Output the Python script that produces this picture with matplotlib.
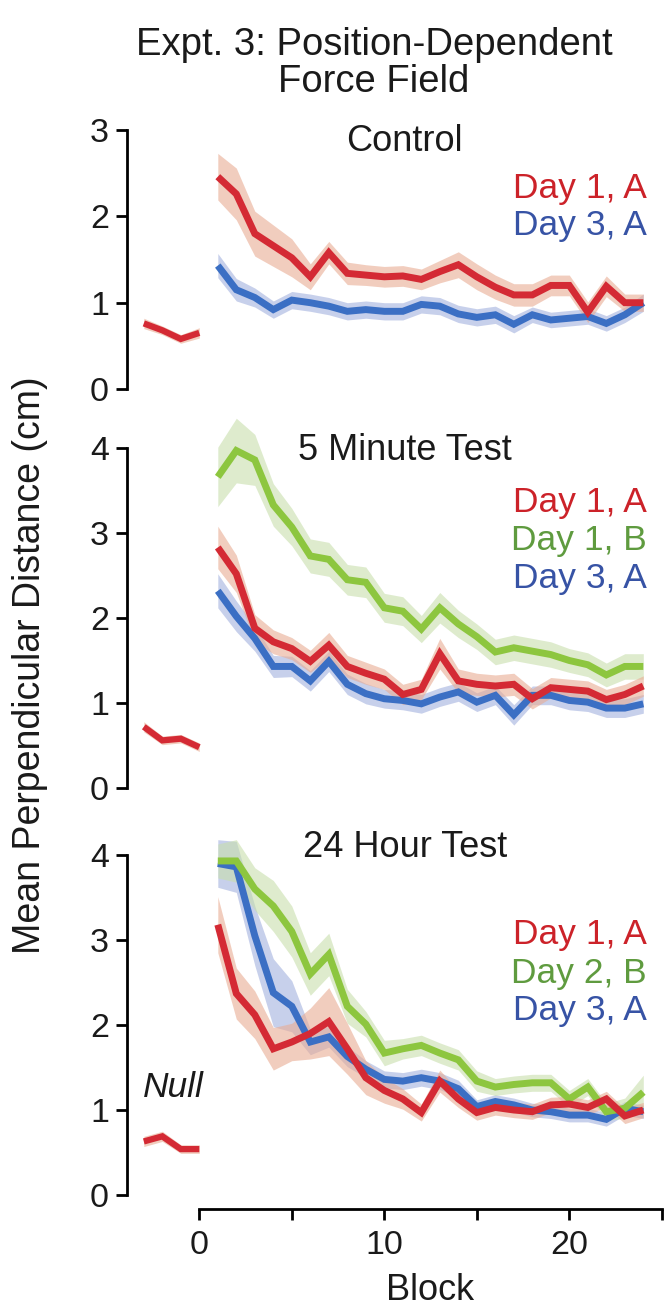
import numpy as np
import matplotlib
matplotlib.use("Agg")
import matplotlib.pyplot as plt

plt.rcParams['font.family'] = ['Liberation Sans', 'DejaVu Sans']

# ---------------- data ----------------
blocks = np.arange(1, 25)
null_blocks = [-3, -2, -1, 0]

ctrl_null = [0.76, 0.68, 0.58, 0.65]
ctrl_null_sem = [0.06, 0.05, 0.05, 0.06]
ctrl_d1A = [2.46, 2.26, 1.80, 1.66, 1.52, 1.30, 1.58, 1.34, 1.32, 1.30, 1.31, 1.27,
            1.36, 1.44, 1.30, 1.18, 1.09, 1.09, 1.20, 1.20, 0.89, 1.19, 1.00, 1.00]
ctrl_d1A_sem = [0.27, 0.30, 0.26, 0.24, 0.22, 0.15, 0.13, 0.13, 0.12, 0.12, 0.12, 0.12,
                0.13, 0.15, 0.15, 0.14, 0.13, 0.13, 0.12, 0.12, 0.12, 0.12, 0.10, 0.10]
ctrl_d3A = [1.43, 1.15, 1.06, 0.92, 1.03, 1.00, 0.96, 0.90, 0.92, 0.90, 0.90, 0.98,
            0.96, 0.87, 0.83, 0.86, 0.75, 0.86, 0.80, 0.82, 0.84, 0.76, 0.86, 1.00]
ctrl_d3A_sem = [0.14, 0.13, 0.11, 0.10, 0.10, 0.10, 0.10, 0.10, 0.10, 0.10, 0.10, 0.10,
                0.10, 0.10, 0.10, 0.10, 0.10, 0.09, 0.09, 0.09, 0.09, 0.09, 0.09, 0.10]

m5_null = [0.72, 0.56, 0.58, 0.48]
m5_null_sem = [0.06, 0.05, 0.05, 0.05]
m5_d1A = [2.83, 2.52, 1.88, 1.72, 1.64, 1.49, 1.68, 1.43, 1.35, 1.28, 1.10, 1.16,
          1.58, 1.26, 1.22, 1.20, 1.22, 1.05, 1.18, 1.16, 1.14, 1.04, 1.10, 1.20]
m5_d1A_sem = [0.25, 0.22, 0.16, 0.14, 0.13, 0.13, 0.15, 0.13, 0.13, 0.12, 0.12, 0.12,
              0.18, 0.14, 0.13, 0.13, 0.13, 0.12, 0.12, 0.12, 0.12, 0.12, 0.12, 0.12]
m5_d1B = [3.66, 3.97, 3.86, 3.33, 3.07, 2.73, 2.69, 2.45, 2.42, 2.12, 2.08, 1.87,
          2.12, 1.93, 1.78, 1.60, 1.65, 1.61, 1.57, 1.50, 1.45, 1.33, 1.43, 1.43]
m5_d1B_sem = [0.35, 0.38, 0.30, 0.25, 0.22, 0.20, 0.20, 0.18, 0.18, 0.17, 0.17, 0.16,
              0.18, 0.16, 0.15, 0.15, 0.15, 0.15, 0.15, 0.14, 0.14, 0.14, 0.15, 0.15]
m5_d3A = [2.32, 2.02, 1.76, 1.43, 1.43, 1.26, 1.49, 1.22, 1.11, 1.05, 1.03, 0.99,
          1.07, 1.13, 1.01, 1.09, 0.86, 1.09, 1.09, 1.03, 1.01, 0.94, 0.94, 0.99]
m5_d3A_sem = [0.20, 0.18, 0.15, 0.13, 0.12, 0.12, 0.12, 0.12, 0.12, 0.11, 0.11, 0.11,
              0.11, 0.11, 0.11, 0.11, 0.12, 0.11, 0.11, 0.11, 0.11, 0.11, 0.11, 0.11]

h24_null = [0.63, 0.69, 0.54, 0.54]
h24_null_sem = [0.06, 0.06, 0.05, 0.05]
h24_d1A = [3.18, 2.37, 2.12, 1.72, 1.80, 1.90, 2.04, 1.72, 1.38, 1.23, 1.13, 0.97,
           1.34, 1.13, 0.97, 1.03, 1.00, 0.98, 1.06, 1.07, 1.03, 1.13, 0.93, 1.00]
h24_d1A_sem = [0.33, 0.30, 0.28, 0.25, 0.22, 0.30, 0.40, 0.30, 0.20, 0.15, 0.12, 0.10,
               0.13, 0.10, 0.09, 0.09, 0.09, 0.09, 0.09, 0.09, 0.09, 0.09, 0.09, 0.09]
h24_d2B = [3.93, 3.93, 3.60, 3.40, 3.10, 2.60, 2.83, 2.22, 2.01, 1.67, 1.72, 1.76,
           1.67, 1.59, 1.34, 1.27, 1.30, 1.32, 1.32, 1.13, 1.27, 0.98, 1.02, 1.21]
h24_d2B_sem = [0.20, 0.25, 0.25, 0.30, 0.30, 0.25, 0.25, 0.20, 0.15, 0.15, 0.12, 0.12,
               0.12, 0.12, 0.12, 0.10, 0.10, 0.10, 0.10, 0.10, 0.10, 0.10, 0.12, 0.20]
h24_d3A = [3.90, 3.86, 3.05, 2.38, 2.22, 1.80, 1.86, 1.63, 1.48, 1.36, 1.34, 1.38,
           1.34, 1.25, 1.04, 1.10, 1.06, 1.00, 0.98, 0.94, 0.94, 0.89, 1.02, 0.98]
h24_d3A_sem = [0.28, 0.30, 0.35, 0.40, 0.30, 0.15, 0.12, 0.12, 0.10, 0.10, 0.10, 0.10,
               0.10, 0.10, 0.08, 0.08, 0.08, 0.08, 0.08, 0.08, 0.08, 0.08, 0.08, 0.08]

# ---------------- style ----------------
RED, RED_BAND, RED_TXT = '#d42a34', '#e9ac93', '#cc2229'
BLUE, BLUE_BAND, BLUE_TXT = '#3b6fc4', '#a3b1de', '#3753a5'
GREEN, GREEN_BAND, GREEN_TXT = '#8dc63f', '#c8dfac', '#5f9b3f'
TICK_FS = 24.5
LEG_FS = 25.5
PANEL_FS = 26
AXLAB_FS = 26
YLAB_FS = 27
TITLE_FS = 27.5
INK = '#1a1a1a'

W, H = 667, 1310
fig = plt.figure(figsize=(W / 100, H / 100), dpi=100)

X_LEFT_PX, X_RIGHT_PX = 127, 667
X0_PX, XUNIT = 199.3, 18.5
xlim = ((X_LEFT_PX - X0_PX) / XUNIT, (X_RIGHT_PX - X0_PX) / XUNIT)


def make_axes(y0_px, unit_px, ylim):
    top = y0_px - ylim[1] * unit_px
    bottom = y0_px - ylim[0] * unit_px
    ax = fig.add_axes([X_LEFT_PX / W, 1 - bottom / H,
                       (X_RIGHT_PX - X_LEFT_PX) / W, (bottom - top) / H])
    ax.set_xlim(*xlim)
    ax.set_ylim(*ylim)
    ax.patch.set_visible(False)
    for s in ('top', 'right', 'bottom'):
        ax.spines[s].set_visible(False)
    ax.spines['left'].set_linewidth(2)
    ax.tick_params(axis='y', direction='out', length=8, width=2,
                   labelsize=TICK_FS, pad=5, labelcolor=INK)
    ax.tick_params(axis='x', bottom=False, labelbottom=False)
    return ax


def series(ax, x, y, sem, color, band, lw=5):
    y = np.asarray(y)
    sem = np.asarray(sem)
    ax.fill_between(x, y - sem, y + sem, color=band, alpha=0.6, lw=0)
    ax.plot(x, y, color=color, lw=lw, solid_joinstyle='miter',
            solid_capstyle='butt')


def labels(ax, items, title, title_y):
    ax.text(11.1, title_y, title, ha='center', va='baseline', fontsize=PANEL_FS,
            color=INK)
    for txt, col, yy in items:
        ax.text(24.2, yy, txt, ha='right', va='baseline', fontsize=LEG_FS, color=col)


# Control
ax1 = make_axes(389, 86.3, (-0.15, 3.2))
ax1.set_yticks([0, 1, 2, 3])
ax1.spines['left'].set_bounds(0, 3)
series(ax1, null_blocks, ctrl_null, ctrl_null_sem, RED, RED_BAND, lw=4.5)
series(ax1, blocks, ctrl_d3A, ctrl_d3A_sem, BLUE, BLUE_BAND)
series(ax1, blocks, ctrl_d1A, ctrl_d1A_sem, RED, RED_BAND)
labels(ax1, [('Day 1, A', RED_TXT, 2.21), ('Day 3, A', BLUE_TXT, 1.78)],
       'Control', 2.76)

# 5 minute
ax2 = make_axes(788, 85, (-0.15, 4.45))
ax2.set_yticks([0, 1, 2, 3, 4])
ax2.spines['left'].set_bounds(0, 4)
series(ax2, null_blocks, m5_null, m5_null_sem, RED, RED_BAND, lw=4.5)
series(ax2, blocks, m5_d3A, m5_d3A_sem, BLUE, BLUE_BAND)
series(ax2, blocks, m5_d1B, m5_d1B_sem, GREEN, GREEN_BAND)
series(ax2, blocks, m5_d1A, m5_d1A_sem, RED, RED_BAND)
labels(ax2, [('Day 1, A', RED_TXT, 3.25), ('Day 1, B', GREEN_TXT, 2.80),
             ('Day 3, A', BLUE_TXT, 2.35)], '5 Minute Test', 3.86)

# 24 hour
ax3 = make_axes(1195, 85, (-0.165, 4.4))
ax3.set_yticks([0, 1, 2, 3, 4])
ax3.spines['left'].set_bounds(0, 4)
series(ax3, null_blocks, h24_null, h24_null_sem, RED, RED_BAND, lw=4.5)
series(ax3, blocks, h24_d3A, h24_d3A_sem, BLUE, BLUE_BAND)
series(ax3, blocks, h24_d2B, h24_d2B_sem, GREEN, GREEN_BAND)
series(ax3, blocks, h24_d1A, h24_d1A_sem, RED, RED_BAND)
labels(ax3, [('Day 1, A', RED_TXT, 2.95), ('Day 2, B', GREEN_TXT, 2.50),
             ('Day 3, A', BLUE_TXT, 2.06)], '24 Hour Test', 3.98)
ax3.text(-1.4, 1.27, 'Null', style='italic', ha='center', va='center',
         fontsize=LEG_FS, color=INK)

# x axis on the bottom panel
ax3.spines['bottom'].set_visible(True)
ax3.spines['bottom'].set_linewidth(2)
ax3.spines['bottom'].set_bounds(0, 25)
ax3.set_xticks([0, 5, 10, 15, 20, 25])
ax3.set_xticklabels(['0', '', '10', '', '20', ''])
ax3.tick_params(axis='x', bottom=True, labelbottom=True, direction='out',
                length=8, width=2, labelsize=TICK_FS, pad=7, labelcolor=INK)

# texts
fig.text(374 / W, 1 - 55 / H, 'Expt. 3: Position-Dependent', ha='center',
         va='baseline', fontsize=TITLE_FS, color=INK)
fig.text(374 / W, 1 - 92 / H, 'Force Field', ha='center', va='baseline',
         fontsize=TITLE_FS, color=INK)
fig.text(30 / W, 1 - 665 / H, 'Mean Perpendicular Distance (cm)', rotation=90,
         ha='center', va='center', fontsize=YLAB_FS, color=INK)
fig.text(430 / W, 2 / H, 'Block', ha='center', va='bottom',
         fontsize=AXLAB_FS, color=INK)

fig.savefig('out.png', dpi=100)
